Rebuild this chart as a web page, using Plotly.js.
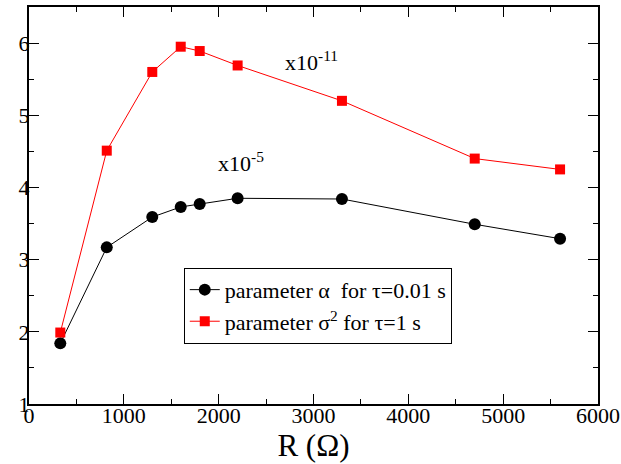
<!DOCTYPE html>
<html>
<head>
<meta charset="utf-8">
<script src="https://cdn.plot.ly/plotly-3.0.1.min.js"></script>
<style>html,body{margin:0;padding:0;background:#fff;}#chart{width:621px;height:464px;}</style>
</head>
<body>
<div id="chart"></div>
<script>
var resistance = [330, 820, 1300, 1600, 1800, 2200, 3300, 4700, 5600];
var alphaValues = [1.84, 3.17, 3.59, 3.73, 3.77, 3.85, 3.84, 3.49, 3.29];
var sigmaValues = [1.99, 4.51, 5.60, 5.95, 5.89, 5.69, 5.20, 4.40, 4.25];
var alphaName = "parameter \u03b1  for \u03c4=0.01 s";
var sigmaName = "parameter \u03c3<sup>2</sup> for \u03c4=1 s";
var alphaScale = "x10<sup>-5</sup>";
var sigmaScale = "x10<sup>-11</sup>";

var serif = "'Liberation Serif', 'DejaVu Serif', serif";

var traces = [
  {x: resistance, y: alphaValues, name: alphaName, type: "scatter", mode: "lines+markers",
   line: {color: "#000000", width: 1}, marker: {color: "#000000", symbol: "circle", size: 12}},
  {x: resistance, y: sigmaValues, name: sigmaName, type: "scatter", mode: "lines+markers",
   line: {color: "#ff0000", width: 1}, marker: {color: "#ff0000", symbol: "square", size: 10}}
];

var axisCommon = {
  showgrid: false, zeroline: false, showline: true, linecolor: "#000", linewidth: 2,
  mirror: "allticks", ticks: "inside", ticklen: 10, tickwidth: 1, tickcolor: "#000",
  tickfont: {family: serif, size: 22, color: "#000"}
};

var layout = {
  width: 621, height: 464,
  margin: {l: 29, r: 23, t: 7, b: 60},
  paper_bgcolor: "#fff", plot_bgcolor: "#fff",
  showlegend: true,
  xaxis: Object.assign({}, axisCommon, {
    range: [0, 6000], dtick: 1000, tick0: 0, ticklabelstandoff: -9,
    minor: {dtick: 500, ticks: "inside", ticklen: 5, tickcolor: "#000", tickwidth: 1},
    title: {text: "R (\u03a9)", font: {family: serif, size: 31, color: "#000"}, standoff: 4}
  }),
  yaxis: Object.assign({}, axisCommon, {
    range: [1, 6.5], dtick: 1, tick0: 0, ticklabelstandoff: -7,
    minor: {dtick: 0.5, ticks: "inside", ticklen: 5, tickcolor: "#000", tickwidth: 1}
  }),
  legend: {
    x: 0.272, y: 0.343, xanchor: "left", yanchor: "top",
    bgcolor: "#fff", bordercolor: "#000", borderwidth: 1,
    font: {family: serif, size: 22, color: "#000"},
    tracegroupgap: 0, itemwidth: 30
  },
  annotations: [
    {x: 2980, y: 5.75, xref: "x", yref: "y", text: sigmaScale, showarrow: false,
     font: {family: serif, size: 22, color: "#000"}},
    {x: 2240, y: 4.35, xref: "x", yref: "y", text: alphaScale, showarrow: false,
     font: {family: serif, size: 22, color: "#000"}}
  ]
};

Plotly.newPlot("chart", traces, layout, {displayModeBar: false, staticPlot: true});
</script>
</body>
</html>
